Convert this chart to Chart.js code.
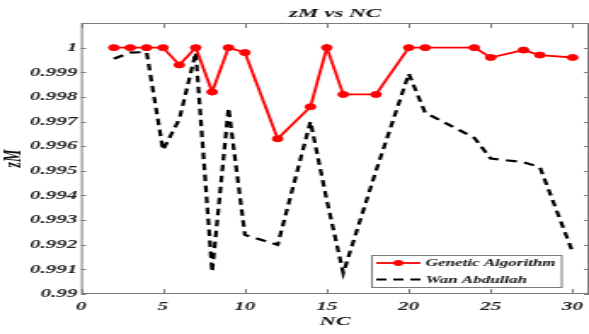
<!DOCTYPE html>
<html>
<head>
<meta charset="utf-8">
<script src="https://cdn.jsdelivr.net/npm/chart.js@4/dist/chart.umd.min.js"></script>
<style>
    html, body { margin: 0; padding: 0; background: #fff; }
    /* the source figure is stretched sideways, so draw narrow and stretch with css */
    #zmChart { width: 589px !important; height: 334px !important; display: block; }
</style>
</head>
<body>
<canvas id="zmChart" width="346" height="334"></canvas>
<script>
const ncValues = [2, 3, 4, 5, 6, 7, 8, 9, 10, 12, 14, 15, 16, 18, 20, 21, 24, 25, 27, 28, 30];
const geneticAlgorithm = [1, 1, 1, 1, 0.9993, 1, 0.9982, 1, 0.9998, 0.9963, 0.9976, 1, 0.9981, 0.9981, 1, 1, 1, 0.9996, 0.9999, 0.9997, 0.9996];
const wanAbdullah = [0.99955, 0.9998, 0.99982, 0.99585, 0.9971, 0.9998, 0.9909, 0.99755, 0.9924, 0.992, 0.997, 0.9938, 0.99085, 0.995, 0.99894, 0.99736, 0.99634, 0.9955, 0.99535, 0.99515, 0.9917];
const xTickValues = [0, 5, 10, 15, 20, 25, 30];
const yTickValues = [0.99, 0.991, 0.992, 0.993, 0.994, 0.995, 0.996, 0.997, 0.998, 0.999, 1];
const seriesLabels = ['Genetic Algorithm', 'Wan Abdullah'];

const serif = "'Liberation Serif', 'DejaVu Serif', serif";
const axisColor = '#7a7a7a';

const boxPlugin = {
    id: 'boxPlugin',
    beforeDatasetsDraw(chart) {
        const { ctx, chartArea: a, scales } = chart;
        ctx.save();
        ctx.strokeStyle = axisColor;
        ctx.lineWidth = 1;
        ctx.strokeRect(a.left + 0.5, a.top + 0.5, a.right - a.left - 1, a.bottom - a.top - 1);
        ctx.beginPath();
        xTickValues.forEach(v => {
            const x = Math.round(scales.x.getPixelForValue(v)) + 0.5;
            ctx.moveTo(x, a.bottom); ctx.lineTo(x, a.bottom - 5);
            ctx.moveTo(x, a.top); ctx.lineTo(x, a.top + 5);
        });
        yTickValues.forEach(v => {
            const y = Math.round(scales.y.getPixelForValue(v)) + 0.5;
            ctx.moveTo(a.left, y); ctx.lineTo(a.left + 3, y);
            ctx.moveTo(a.right, y); ctx.lineTo(a.right - 3, y);
        });
        ctx.stroke();
        ctx.restore();
    },
    afterDraw(chart) {
        // legend box in the lower right, like the matlab one
        const { ctx } = chart;
        const left = 218, top = 255, width = 111.5, height = 32;
        ctx.save();
        ctx.fillStyle = '#fff';
        ctx.fillRect(left, top, width, height);
        ctx.strokeStyle = axisColor;
        ctx.lineWidth = 1;
        ctx.strokeRect(left + 0.5, top + 0.5, width, height);

        const rows = [263, 279.5];
        ctx.strokeStyle = '#ff0000';
        ctx.lineWidth = 1.8;
        ctx.beginPath();
        ctx.moveTo(221, rows[0]); ctx.lineTo(247, rows[0]);
        ctx.stroke();
        ctx.fillStyle = '#ff0000';
        ctx.beginPath();
        ctx.arc(234, rows[0], 3, 0, Math.PI * 2);
        ctx.fill();

        ctx.strokeStyle = '#000';
        ctx.lineWidth = 2.2;
        ctx.setLineDash([6, 4]);
        ctx.beginPath();
        ctx.moveTo(221, rows[1]); ctx.lineTo(247, rows[1]);
        ctx.stroke();
        ctx.setLineDash([]);

        ctx.fillStyle = '#111';
        ctx.font = `italic bold 10px ${serif}`;
        ctx.textBaseline = 'middle';
        ctx.textAlign = 'left';
        ctx.fillText(seriesLabels[0], 250, rows[0] + 0.5);
        ctx.fillText(seriesLabels[1], 250, rows[1] + 0.5);
        ctx.restore();
    }
};

const tickFont = { family: serif, size: 12.5, style: 'italic', weight: 'bold' };

new Chart(document.getElementById('zmChart'), {
    type: 'line',
    data: {
        datasets: [
            {
                label: seriesLabels[0],
                data: ncValues.map((x, i) => ({ x: x, y: geneticAlgorithm[i] })),
                borderColor: '#ff0000',
                backgroundColor: '#ff0000',
                borderWidth: 1.8,
                pointRadius: 3,
                pointStyle: 'circle',
                pointBorderWidth: 1,
                tension: 0
            },
            {
                label: seriesLabels[1],
                data: ncValues.map((x, i) => ({ x: x, y: wanAbdullah[i] })),
                borderColor: '#000',
                backgroundColor: '#000',
                borderWidth: 2.2,
                borderDash: [6.5, 4.5],
                pointRadius: 0,
                tension: 0
            }
        ]
    },
    options: {
        responsive: false,
        animation: false,
        devicePixelRatio: 1,
        layout: { padding: 0, autoPadding: false },
        plugins: {
            legend: { display: false },
            tooltip: { enabled: false },
            title: {
                display: true,
                text: 'zM vs NC',
                fullSize: false,
                color: '#111',
                font: { family: serif, size: 13.5, style: 'italic', weight: 'bold' },
                padding: { top: 5, bottom: 1.8 }
            }
        },
        scales: {
            x: {
                type: 'linear',
                min: 0,
                max: 31,
                grid: { display: false, drawTicks: false },
                border: { display: false },
                afterBuildTicks: scale => { scale.ticks = xTickValues.map(v => ({ value: v })); },
                afterFit: scale => {
                    scale.height = 40;
                    scale.paddingLeft = 0;
                    scale.paddingRight = 0;
                },
                ticks: {
                    padding: 5.5,
                    color: '#222',
                    font: tickFont,
                    maxRotation: 0,
                    callback: v => String(v)
                },
                title: {
                    display: true,
                    text: 'NC',
                    color: '#111',
                    font: { family: serif, size: 13, style: 'italic', weight: 'bold' },
                    padding: { top: 0, bottom: 4.4 }
                }
            },
            y: {
                min: 0.99,
                max: 1.001,
                grid: { display: false, drawTicks: false },
                border: { display: false },
                afterBuildTicks: scale => { scale.ticks = yTickValues.map(v => ({ value: v })); },
                afterFit: scale => { scale.width = 47.6; },
                ticks: {
                    padding: 2,
                    color: '#222',
                    font: tickFont,
                    callback: v => String(+v.toFixed(3))
                },
                title: {
                    display: true,
                    text: 'zM',
                    color: '#111',
                    font: { family: serif, size: 14, style: 'italic', weight: 'bold' },
                    padding: { top: 0.4, bottom: 0 }
                }
            }
        }
    },
    plugins: [boxPlugin]
});
</script>
</body>
</html>
